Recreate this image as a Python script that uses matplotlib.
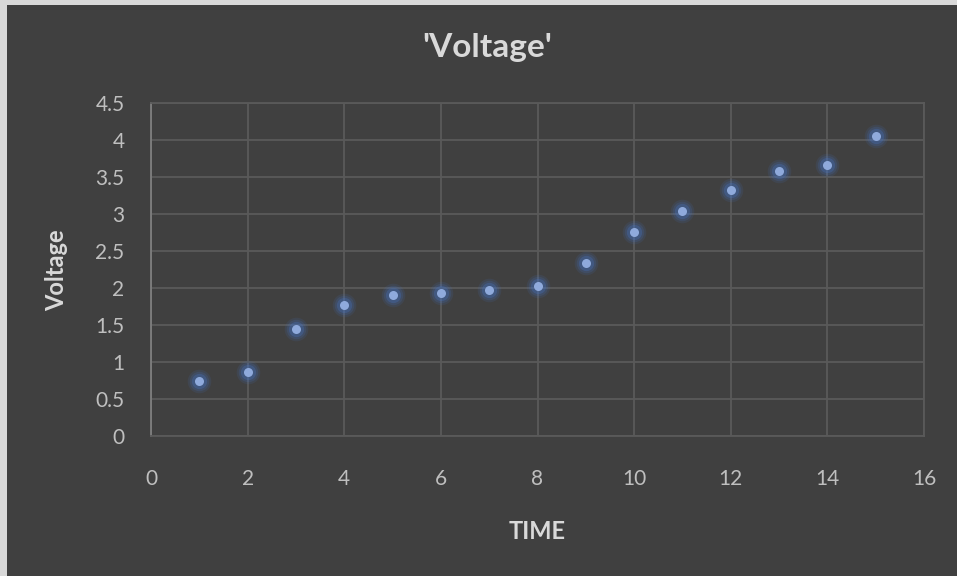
import matplotlib
matplotlib.use("Agg")
import matplotlib.pyplot as plt

time = [1, 2, 3, 4, 5, 6, 7, 8, 9, 10, 11, 12, 13, 14, 15]
voltage = [0.75, 0.87, 1.45, 1.77, 1.91, 1.93, 1.97, 2.03, 2.34, 2.76, 3.04, 3.32, 3.58, 3.66, 4.05]
x_ticks = [0, 2, 4, 6, 8, 10, 12, 14, 16]
y_ticks = [0, 0.5, 1, 1.5, 2, 2.5, 3, 3.5, 4, 4.5]
y_labels = ['0', '0.5', '1', '1.5', '2', '2.5', '3', '3.5', '4', '4.5']

plt.rcParams['font.family'] = ['Lato', 'DejaVu Sans']
BG = '#404040'
GRID = '#5a5a5a'
TXT = '#d9d9d9'
TICK = '#bfbfbf'

fig = plt.figure(figsize=(9.57, 5.76), dpi=100)
fig.patch.set_facecolor('#d9d9d9')
bg = fig.add_axes([7/957, 0, 1 - 7/957, 1 - 5/576], zorder=0)
bg.set_facecolor(BG)
bg.axis('off')
bg.add_patch(plt.Rectangle((0, 0), 1, 1, transform=bg.transAxes, facecolor=BG, edgecolor='none'))

ax = fig.add_axes([151/957, 1 - 436/576, (924 - 151)/957, (436 - 103)/576], zorder=2)
ax.set_facecolor(BG)
ax.set_xlim(0, 16)
ax.set_ylim(0, 4.5)
ax.set_xticks(x_ticks)
ax.set_yticks(y_ticks)
ax.set_yticklabels(y_labels)
ax.grid(True, color=GRID, linewidth=1.3)
ax.set_axisbelow(True)
ax.tick_params(length=0, colors=TICK, labelsize=15)
ax.tick_params(axis='x', pad=24)
ax.tick_params(axis='y', pad=19)
for s in ['top', 'right', 'bottom']:
    ax.spines[s].set_color(GRID)
    ax.spines[s].set_linewidth(1.3)
ax.spines['left'].set_color('#7f7f7f')
ax.spines['left'].set_linewidth(1.3)

# glow
for ms, a in [(17, 0.12), (14, 0.18), (11, 0.3)]:
    ax.plot(time, voltage, 'o', ms=ms, color='#4472c4', alpha=a, mec='none', zorder=3)
ax.plot(time, voltage, 'o', ms=6.5, color='#8faadc', mec='none', zorder=4)

fig.text(487/957, 1 - 57/576, "'Voltage'", ha='center', va='baseline',
         color=TXT, fontsize=24, fontweight='bold', zorder=5)
fig.text(57/957, 1 - 270/576, 'Voltage', rotation=90, ha='center', va='center',
         color=TXT, fontsize=17, fontweight='bold', zorder=5)
fig.text(537/957, 1 - 539/576, 'TIME', ha='center', va='baseline',
         color=TXT, fontsize=17, fontweight='bold', zorder=5)

fig.savefig('out.png', dpi=100, facecolor=fig.get_facecolor())
